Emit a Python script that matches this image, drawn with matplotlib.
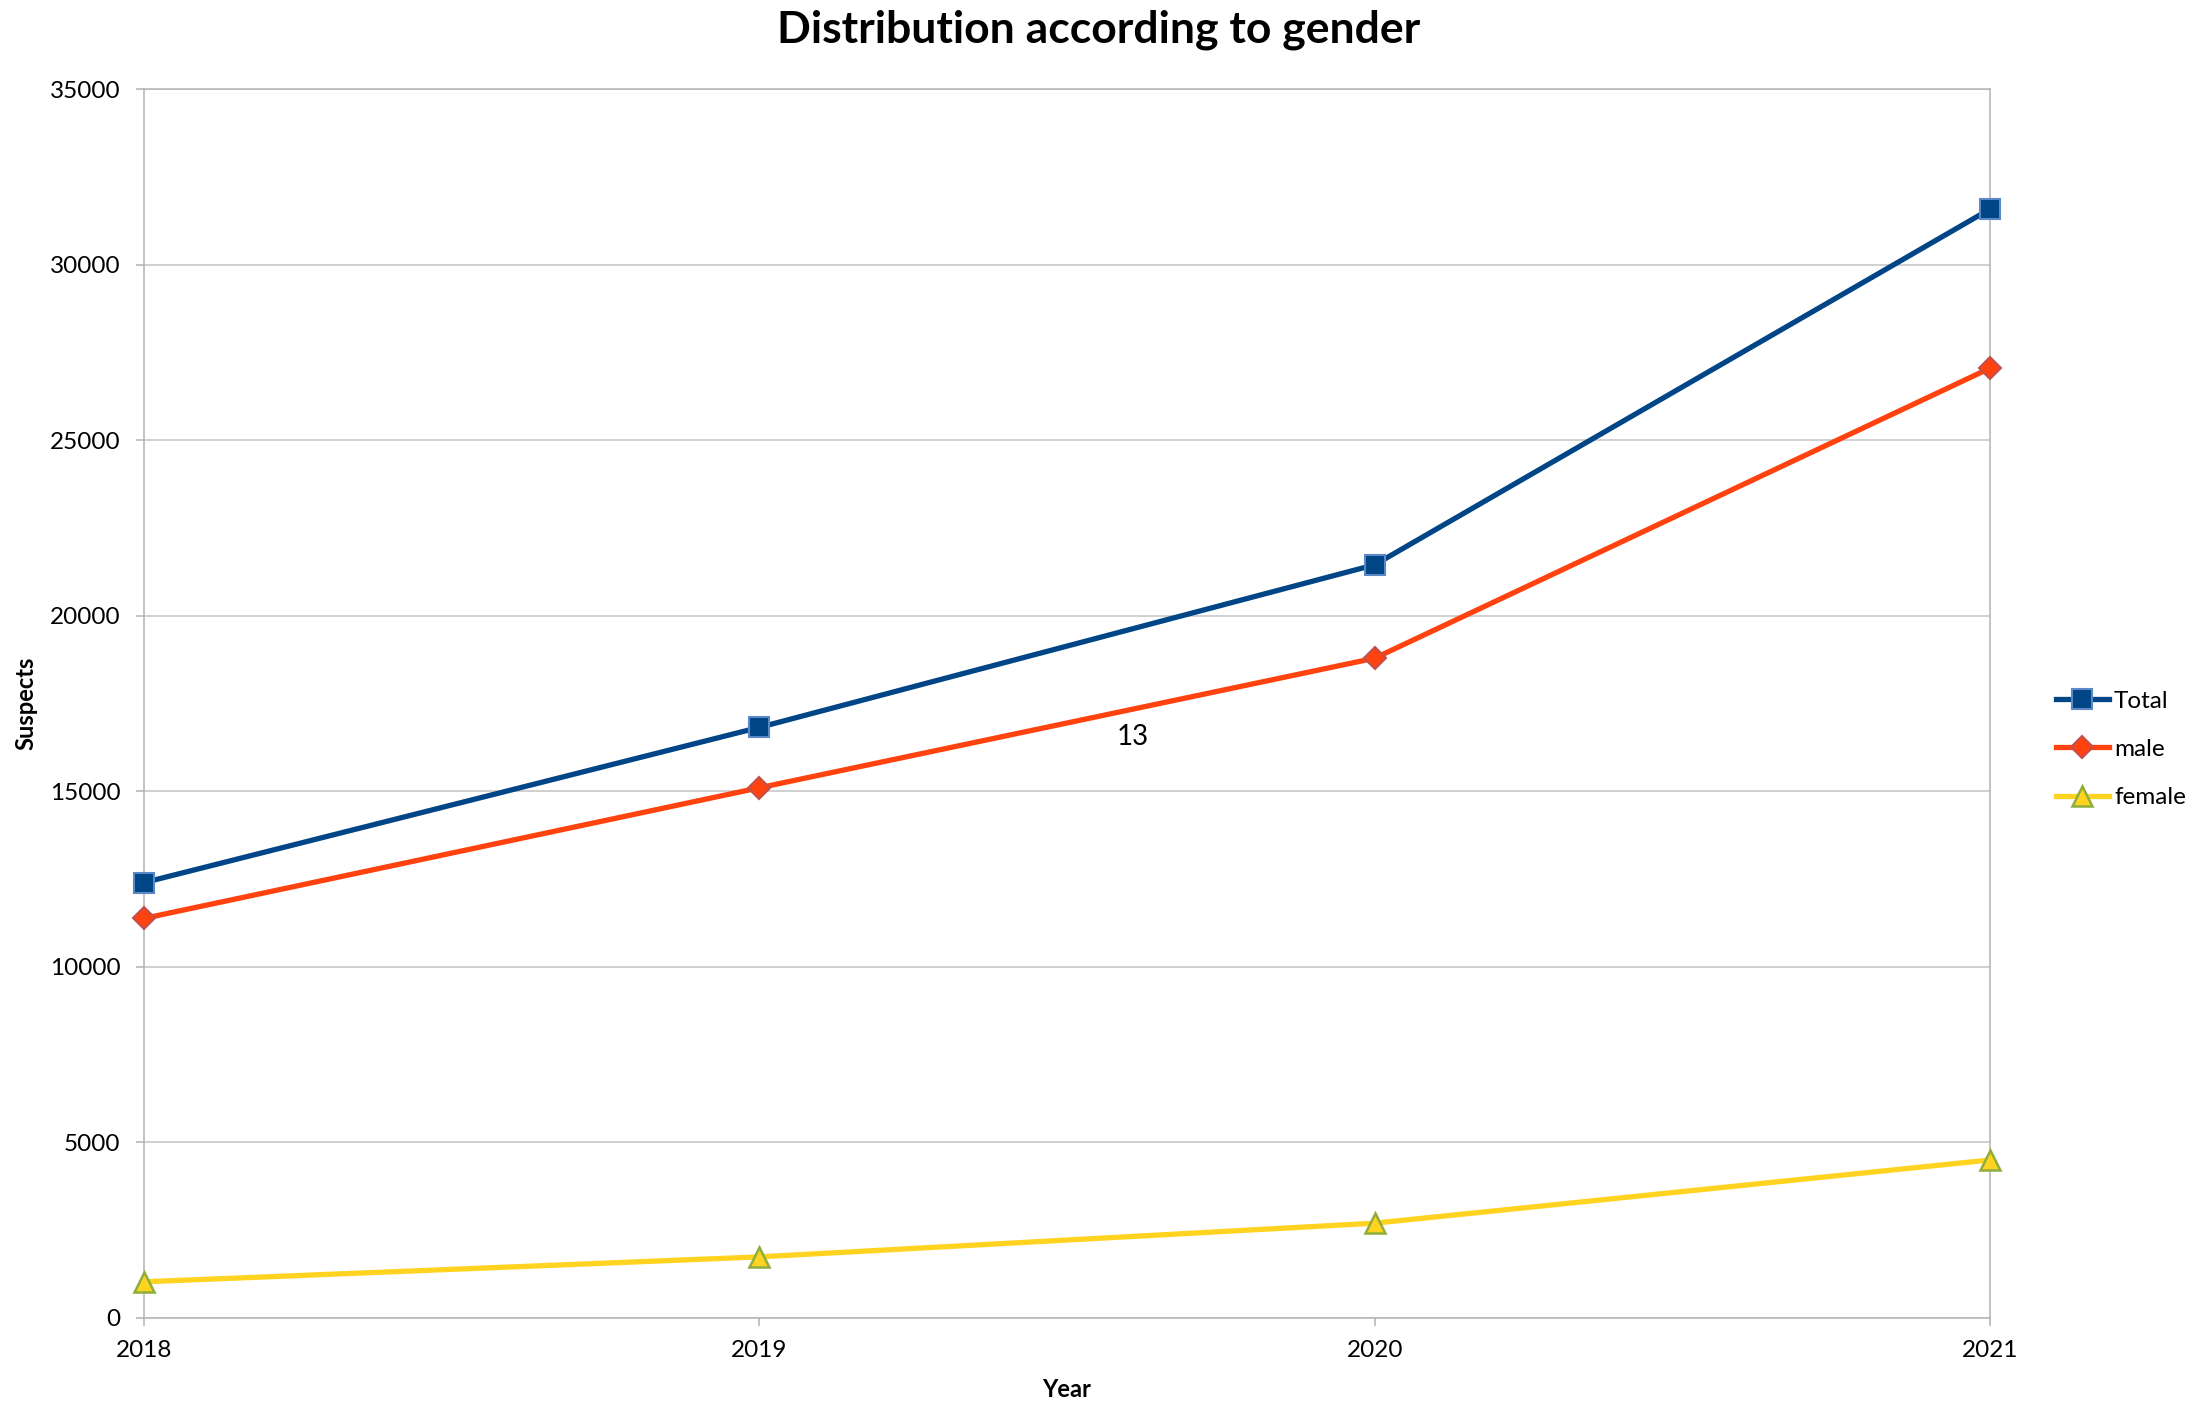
import matplotlib
matplotlib.use("Agg")
import matplotlib.pyplot as plt

years = [2018, 2019, 2020, 2021]
total = [12400, 16820, 21450, 31580]
male = [11380, 15100, 18790, 27050]
female = [1030, 1740, 2700, 4500]
yticks = [0, 5000, 10000, 15000, 20000, 25000, 30000, 35000]

plt.rcParams['font.family'] = ['Lato', 'DejaVu Sans']

fig = plt.figure(figsize=(22.02, 14.09), dpi=100)
ax = fig.add_axes([0.0654, 0.0646, 0.9037 - 0.0654, 0.9368 - 0.0646])

ax.plot(years, total, color='#004586', lw=3.8, marker='s', ms=14,
        mfc='#004586', mec='#5a8ac6', mew=1.5, label='Total', zorder=5, clip_on=False)
ax.plot(years, male, color='#ff420e', lw=3.8, marker='D', ms=11,
        mfc='#ff420e', mec='#c0504d', mew=1.5, label='male', zorder=4, clip_on=False)
ax.plot(years, female, color='#ffd320', lw=3.8, marker='^', ms=15,
        mfc='#ffd320', mec='#8fad3c', mew=1.8, label='female', zorder=3, clip_on=False)

ax.set_xlim(2018, 2021)
ax.set_ylim(0, 35000)
ax.set_xticks(years)
ax.set_xticklabels([str(y) for y in years])
ax.set_yticks(yticks)
ax.set_yticklabels([str(v) for v in yticks])
ax.grid(axis='y', color='#c4c4c4', lw=1.1)
ax.set_axisbelow(True)
for s in ax.spines.values():
    s.set_color('#b3b3b3')
    s.set_linewidth(1.1)
ax.tick_params(axis='both', colors='#b3b3b3', labelcolor='black',
               labelsize=17.5, length=6, width=1.1)
ax.tick_params(axis='y', pad=11)
ax.tick_params(axis='x', pad=10)

ax.set_xlabel('Year', fontsize=17, fontweight='bold', labelpad=12)
ax.set_ylabel('Suspects', fontsize=17, fontweight='bold', labelpad=9)
fig.text(0.4987, 0.979, 'Distribution according to gender', fontsize=32,
         fontweight='bold', ha='center', va='center')
fig.text(1133 / 2202, 1 - 737 / 1409, '13', fontsize=20, ha='center', va='center')

leg = ax.legend(loc='center left', bbox_to_anchor=(1.0, 0.4626), frameon=False,
                fontsize=17.5, handlelength=2.2, handletextpad=0.2, labelspacing=1.12,
                borderaxespad=2.3)

fig.savefig('out.png', dpi=100)
